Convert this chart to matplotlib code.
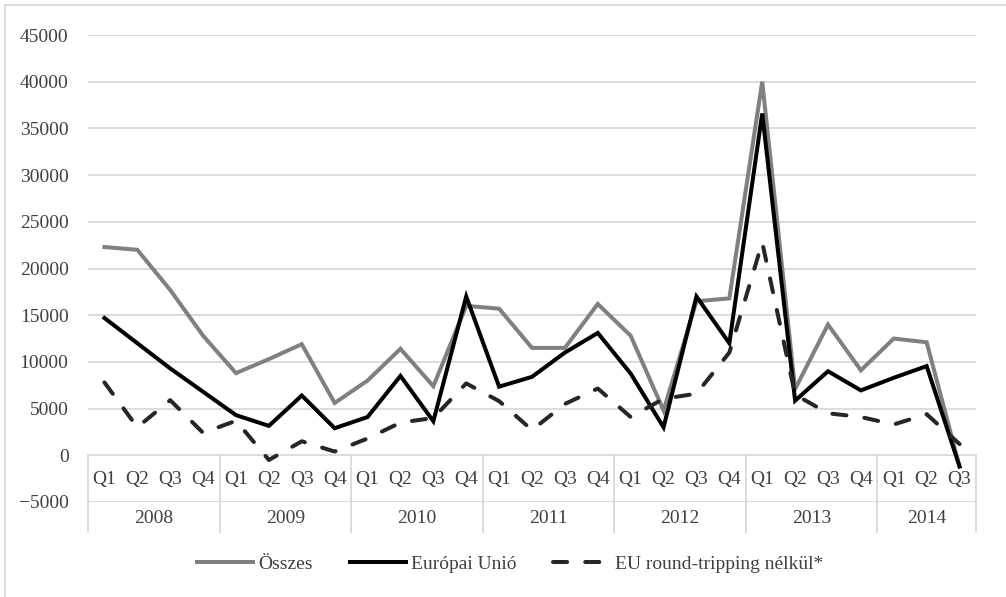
import matplotlib
matplotlib.use("Agg")
import matplotlib.pyplot as plt
from matplotlib.lines import Line2D
import matplotlib.transforms as mtransforms

plt.rcParams['font.family'] = ['Liberation Serif', 'DejaVu Serif']

years = ['2008', '2009', '2010', '2011', '2012', '2013', '2014']
quarters_per_year = [4, 4, 4, 4, 4, 4, 3]
quarter_names = ['Q1', 'Q2', 'Q3', 'Q4']

osszes = [22300, 22000, 17700, 12800,
          8800, 10300, 11900, 5600,
          8000, 11400, 7400, 16000,
          15700, 11500, 11500, 16200,
          12800, 4800, 16500, 16800,
          40000, 7100, 14000, 9100,
          12500, 12100, -1200]

eu = [14700, 12000, 9300, 6800,
      4300, 3150, 6400, 2900,
      4100, 8500, 3650, 17000,
      7350, 8400, 11000, 13100,
      8750, 3000, 17000, 12000,
      36600, 5850, 9000, 6950,
      8300, 9550, -1200]

eu_rt = [7800, 3000, 5900, 2400,
         3700, -500, 1500, 400,
         1800, 3500, 4000, 7700,
         5800, 2700, 5500, 7150,
         4100, 6050, 6600, 11000,
         22800, 6500, 4500, 4100,
         3300, 4400, 1200]

labels = ['Összes', 'Európai Unió', 'EU round-tripping nélkül*']

W, H = 1006, 597
fig = plt.figure(figsize=(W / 100, H / 100), dpi=100)
ax_left, ax_right, ax_top, ax_bottom = 88, 976, 35, 502
ax = fig.add_axes([ax_left / W, 1 - ax_bottom / H,
                   (ax_right - ax_left) / W, (ax_bottom - ax_top) / H])

text_color = '#404040'
grid_color = '#d9d9d9'

n = len(osszes)
x = list(range(n))

ax.set_xlim(-0.5, n - 0.5)
ax.set_ylim(-5000, 45000)
ax.set_yticks(range(-5000, 45001, 5000))
ax.yaxis.grid(True, color=grid_color, linewidth=1.3, zorder=0)
ax.set_axisbelow(True)
ax.tick_params(axis='y', length=0, pad=14, labelsize=14, labelcolor=text_color)
ax.set_xticks([])
for s in ax.spines.values():
    s.set_visible(False)

lw = 2.9
ax.plot(x, osszes, color='#808080', linewidth=lw, solid_joinstyle='miter', zorder=3)
ax.plot(x, eu, color='#000000', linewidth=lw, solid_joinstyle='miter', zorder=4)
ax.plot(x, eu_rt, color='#262626', linewidth=lw, linestyle=(0, (3.5, 4.5)),
        dash_capstyle='round', zorder=5)

# category axis (two-level)
trans = mtransforms.blended_transform_factory(ax.transData, ax.transAxes)
y0_axes = (0 - (-5000)) / 50000.0
ybot_axes = -30.0 / (ax_bottom - ax_top)
bounds = [-0.5]
idx = 0
for yr, nq in zip(years, quarters_per_year):
    for q in range(nq):
        ax.text(idx + q, -2600, quarter_names[q], ha='center', va='center',
                fontsize=14, color=text_color)
    ax.text(idx + (nq - 1) / 2.0, -0.036, yr, transform=trans, ha='center',
            va='center', fontsize=14, color=text_color)
    idx += nq
    bounds.append(idx - 0.5)
for b in bounds:
    ax.plot([b, b], [y0_axes, ybot_axes], transform=trans, color=grid_color,
            linewidth=1.3, clip_on=False, zorder=1)

# legend
handles = [Line2D([], [], color='#808080', linewidth=lw),
           Line2D([], [], color='#000000', linewidth=lw),
           Line2D([], [], color='#262626', linewidth=lw, linestyle=(0, (3.5, 4.5)),
                  dash_capstyle='round')]
fig.legend(handles, labels, loc='center', bbox_to_anchor=(510 / W, 1 - 564 / H),
           ncol=3, frameon=False, fontsize=14, handlelength=2.9,
           handletextpad=0.25, columnspacing=1.9, labelcolor=text_color)

# figure border (left and top)
fig.add_artist(Line2D([5 / W, 5 / W], [0, 1 - 5 / H], color=grid_color, linewidth=1.3))
fig.add_artist(Line2D([5 / W, 1], [1 - 5 / H, 1 - 5 / H], color=grid_color, linewidth=1.3))

fig.savefig('out.png', dpi=100, facecolor='white')
